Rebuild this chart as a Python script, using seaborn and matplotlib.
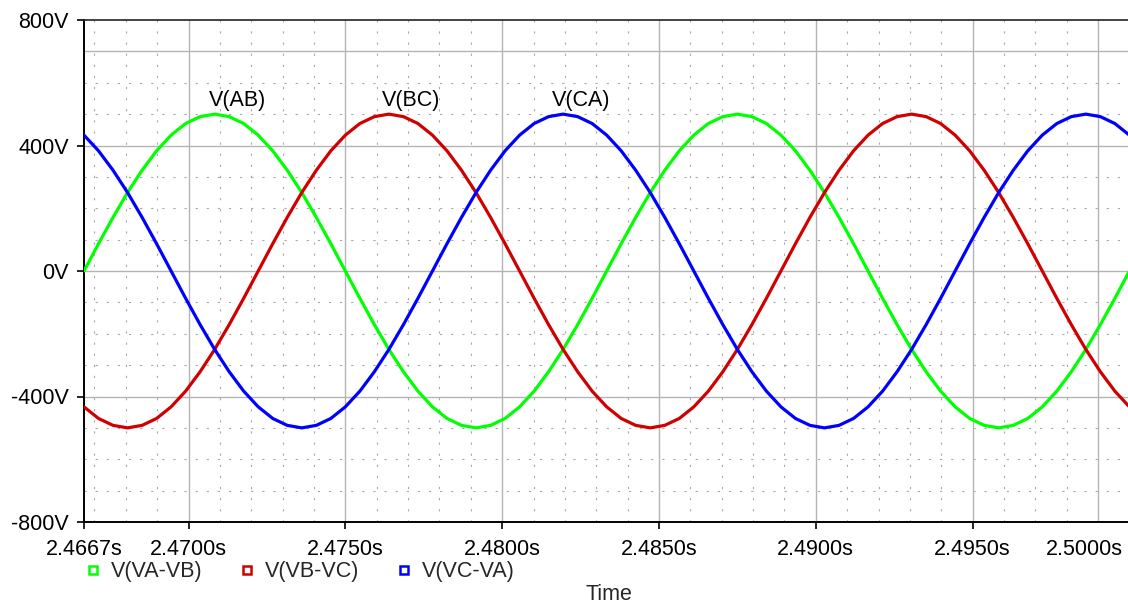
import numpy as np
import pandas as pd
import matplotlib
matplotlib.use('Agg')
import matplotlib.pyplot as plt
import matplotlib.transforms as mtransforms
from matplotlib.lines import Line2D
import seaborn as sns

tempo = [2.466667, 2.467130, 2.467593, 2.468056, 2.468519, 2.468981, 2.469444, 2.469907,
         2.470370, 2.470833, 2.471296, 2.471759, 2.472222, 2.472685, 2.473148, 2.473611,
         2.474074, 2.474537, 2.475000, 2.475463, 2.475926, 2.476389, 2.476852, 2.477315,
         2.477778, 2.478241, 2.478704, 2.479167, 2.479630, 2.480093, 2.480556, 2.481019,
         2.481481, 2.481944, 2.482407, 2.482870, 2.483333, 2.483796, 2.484259, 2.484722,
         2.485185, 2.485648, 2.486111, 2.486574, 2.487037, 2.487500, 2.487963, 2.488426,
         2.488889, 2.489352, 2.489815, 2.490278, 2.490741, 2.491204, 2.491667, 2.492130,
         2.492593, 2.493056, 2.493519, 2.493981, 2.494444, 2.494907, 2.495370, 2.495833,
         2.496296, 2.496759, 2.497222, 2.497685, 2.498148, 2.498611, 2.499074, 2.499537,
         2.500000]

v_ab = [0, 87, 171, 250, 321, 383, 433, 470, 492, 500, 492, 470, 433, 383, 321, 250, 171, 87,
        0, -87, -171, -250, -321, -383, -433, -470, -492, -500, -492, -470, -433, -383, -321, -250, -171, -87,
        0, 87, 171, 250, 321, 383, 433, 470, 492, 500, 492, 470, 433, 383, 321, 250, 171, 87,
        0, -87, -171, -250, -321, -383, -433, -470, -492, -500, -492, -470, -433, -383, -321, -250, -171, -87,
        0]

v_bc = [-433, -470, -492, -500, -492, -470, -433, -383, -321, -250, -171, -87,
        0, 87, 171, 250, 321, 383, 433, 470, 492, 500, 492, 470, 433, 383, 321, 250, 171, 87,
        0, -87, -171, -250, -321, -383,
        -433, -470, -492, -500, -492, -470, -433, -383, -321, -250, -171, -87,
        0, 87, 171, 250, 321, 383, 433, 470, 492, 500, 492, 470, 433, 383, 321, 250, 171, 87,
        0, -87, -171, -250, -321, -383,
        -433]

v_ca = [433, 383, 321, 250, 171, 87, 0, -87, -171, -250, -321, -383,
        -433, -470, -492, -500, -492, -470, -433, -383, -321, -250, -171, -87,
        0, 87, 171, 250, 321, 383, 433, 470, 492, 500, 492, 470,
        433, 383, 321, 250, 171, 87, 0, -87, -171, -250, -321, -383,
        -433, -470, -492, -500, -492, -470, -433, -383, -321, -250, -171, -87,
        0, 87, 171, 250, 321, 383, 433, 470, 492, 500, 492, 470,
        433]

series = ['V(VA-VB)', 'V(VB-VC)', 'V(VC-VA)']
cores = ['#00ff00', '#d00000', '#0000ff']
rotulos = ['V(AB)', 'V(BC)', 'V(CA)']

xticks = [2.466667, 2.47, 2.475, 2.48, 2.485, 2.49, 2.495, 2.5]
xlabels = ['2.4667s', '2.4700s', '2.4750s', '2.4800s', '2.4850s', '2.4900s', '2.4950s', '2.5000s']
yticks = [-800, -400, 0, 400, 800]
ylabels = ['-800V', '-400V', '0V', '400V', '800V']

df = pd.DataFrame({
    't': tempo * 3,
    'v': v_ab + v_bc + v_ca,
    'serie': [s for s in series for _ in tempo],
})

sns.set_style('white')
plt.rcParams['font.family'] = ['Liberation Sans', 'DejaVu Sans']

fig = plt.figure(figsize=(11.28, 6.04), dpi=100)
ax = fig.add_axes([84 / 1128, 1 - 522 / 604, 1045.4 / 1128, 502 / 604])

# grade estilo LTspice: linhas cheias e pontilhadas
grade_h_cheia = [700, 400, 0, -400]
grade_h_pont = [600, 500, 300, 200, 100, -100, -200, -300, -500, -600, -700]
grade_v_cheia = [2.470, 2.475, 2.480, 2.485, 2.490, 2.495, 2.499]
grade_v_pont = [2.467, 2.468, 2.469, 2.471, 2.472, 2.473, 2.474, 2.476, 2.477, 2.478, 2.479,
                2.481, 2.482, 2.483, 2.484, 2.486, 2.487, 2.488, 2.489, 2.491, 2.492, 2.493,
                2.494, 2.496, 2.497, 2.498]
for y in grade_h_cheia:
    ax.axhline(y, color='#b4b4b4', lw=1.0, zorder=0.5)
for y in grade_h_pont:
    ax.axhline(y, color='#a8a8a8', lw=0.8, ls=(0, (2, 8)), zorder=0.5)
for x in grade_v_cheia:
    ax.axvline(x, color='#b4b4b4', lw=1.0, zorder=0.5)
for x in grade_v_pont:
    ax.axvline(x, color='#a8a8a8', lw=0.8, ls=(0, (2, 8)), zorder=0.5)

sns.lineplot(data=df, x='t', y='v', hue='serie', hue_order=series, palette=cores,
             estimator=None, sort=False, lw=2.3, legend=False, ax=ax, zorder=3)

ax.set_xlim(2.466667, 2.5)
ax.set_ylim(-800, 800)
ax.set_xticks(xticks)
ax.set_xticklabels(xlabels)
ax.set_yticks(yticks)
ax.set_yticklabels(ylabels)
ax.set_xlabel('')
ax.set_ylabel('')
ax.tick_params(axis='both', direction='out', length=5, width=1.2, labelsize=15.5,
               colors='black', left=True, bottom=True)
ax.tick_params(axis='x', pad=7)
ax.tick_params(axis='y', pad=6)
ultimo = ax.get_xticklabels()[-1]
ultimo.set_ha('right')
ultimo.set_transform(ultimo.get_transform() + mtransforms.ScaledTranslation(-0.07, 0, fig.dpi_scale_trans))

for lado in ['left', 'bottom']:
    ax.spines[lado].set_color('black')
    ax.spines[lado].set_linewidth(1.4)
ax.spines['top'].set_color('#222222')
ax.spines['top'].set_linewidth(1.2)
ax.spines['top'].set_linestyle((0, (3, 1)))
ax.spines['right'].set_visible(False)

# rotulos das curvas
for txt, xt in zip(rotulos, [2.471578, 2.477110, 2.482531]):
    ax.text(xt, 545, txt, ha='center', va='center', fontsize=15.5, color='black')

handles = [Line2D([], [], ls='', marker='s', ms=6, mfc='white', mec=c, mew=1.8) for c in cores]
fig.legend(handles, series, loc='center left', bbox_to_anchor=(86.5 / 1128, 1 - 571.7 / 604),
           ncol=3, frameon=False, fontsize=15.5, handlelength=0.6, handletextpad=0.55,
           columnspacing=1.75, borderpad=0, borderaxespad=0)

fig.text(609 / 1128, 1 - 594 / 604, 'Time', ha='center', va='center', fontsize=15.5)

plt.savefig('out.png', dpi=100)
